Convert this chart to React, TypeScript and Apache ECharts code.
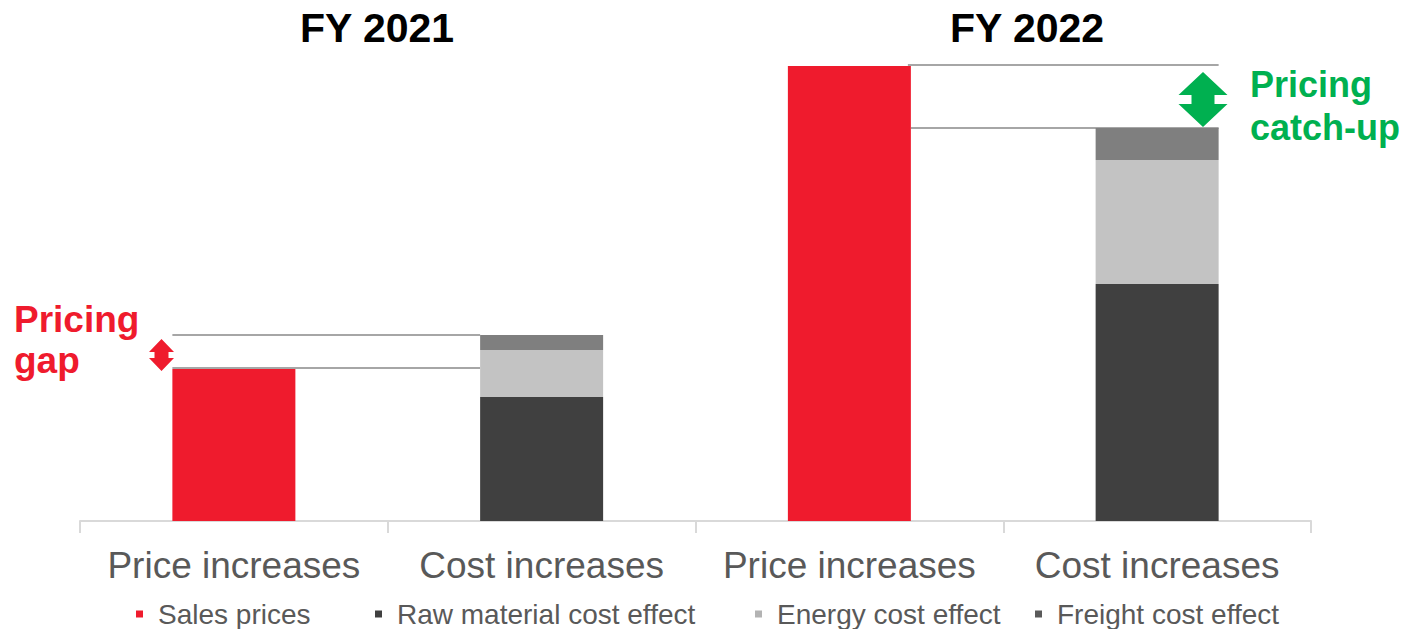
import React, { useEffect, useRef } from "react";
import * as echarts from "echarts";

const categories = ["Price increases", "Cost increases", "Price increases", "Cost increases"];
const groupTitles = ["FY 2021", "FY 2022"];
const seriesNames = ["Sales prices", "Raw material cost effect", "Energy cost effect", "Freight cost effect"];
const salesPrices: (number | string)[] = [152, "-", 455, "-"];
const rawMaterial: (number | string)[] = ["-", 124, "-", 237];
const energyCost: (number | string)[] = ["-", 47, "-", 124];
const freightCost: (number | string)[] = ["-", 15, "-", 32];
const annotationLines = [["Pricing", "gap"], ["Pricing", "catch-up"]];

const RED = "#ef1b2d";
const GREEN = "#00b050";
const DARK = "#404040";
const LIGHT = "#c3c3c3";
const FREIGHT = "#7f7f7f";
const LEGEND_COLORS = [RED, DARK, "#b3b3b3", "#5a5a5a"];
const LEGEND_LEFT = [131, 370, 750, 1030];
const FONT = "'Liberation Sans', Arial, sans-serif";

export default function App() {
  const ref = useRef<HTMLDivElement>(null);
  useEffect(() => {
    if (!ref.current) return;
    const chart = echarts.init(ref.current, null, { renderer: "svg" });
    const seriesData = [salesPrices, rawMaterial, energyCost, freightCost];
    const seriesColors = [RED, DARK, LIGHT, FREIGHT];
    const option: any = {
      animation: false,
      textStyle: { fontFamily: FONT },
      grid: { left: 80, right: 92, top: 21, bottom: 108, containLabel: false },
      xAxis: {
        type: "category",
        data: categories,
        axisLine: { lineStyle: { color: "#d9d9d9", width: 2 } },
        axisTick: { show: true, length: 12, lineStyle: { color: "#d9d9d9", width: 2 } },
        axisLabel: { color: "#595959", fontSize: 37, margin: 26, fontFamily: FONT, interval: 0 },
      },
      yAxis: { type: "value", min: 0, max: 500, show: false, splitLine: { show: false } },
      legend: seriesNames.map((n, i) => ({
        data: [{ name: n, itemStyle: { color: LEGEND_COLORS[i] } }],
        left: LEGEND_LEFT[i],
        top: 595,
        icon: "rect",
        itemWidth: 7,
        itemHeight: 7,
        textStyle: { color: "#595959", fontSize: 28, lineHeight: 28, fontFamily: FONT, padding: [0, 0, 0, 10] },
      })),
      series: seriesNames.map((n, i) => ({
        name: n,
        type: "bar",
        stack: "total",
        barWidth: 123,
        data: seriesData[i],
        itemStyle: { color: seriesColors[i] },
      })),
    };
    chart.setOption(option);

    const px = (idx: number, v: number) => chart.convertToPixel({ gridIndex: 0 }, [idx, v]) as number[];
    const num = (v: number | string) => (typeof v === "number" ? v : 0);
    const costTotal = (idx: number) => num(rawMaterial[idx]) + num(energyCost[idx]) + num(freightCost[idx]);
    const half = 61.5;
    const c0 = px(0, num(salesPrices[0]));
    const c1 = px(1, costTotal(1));
    const c2 = px(2, num(salesPrices[2]));
    const c3 = px(3, costTotal(3));
    const lineStyle = { stroke: "#a6a6a6", lineWidth: 2 };

    const arrow = (cx: number, top: number, bottom: number, headH: number, headW: number, shaftW: number, color: string) => ({
      type: "polygon",
      shape: {
        points: [
          [cx, top],
          [cx + headW, top + headH],
          [cx + shaftW, top + headH],
          [cx + shaftW, bottom - headH],
          [cx + headW, bottom - headH],
          [cx, bottom],
          [cx - headW, bottom - headH],
          [cx - shaftW, bottom - headH],
          [cx - shaftW, top + headH],
          [cx - headW, top + headH],
        ],
      },
      style: { fill: color },
    });

    const textEl = (x: number, y: number, text: string, size: number, color: string, align = "left") => ({
      type: "text",
      x,
      y,
      style: { text, fontSize: size, fontWeight: "bold", fill: color, fontFamily: FONT, align, verticalAlign: "middle" },
    });

    chart.setOption({
      graphic: [
        { type: "line", shape: { x1: c0[0] - half, y1: c1[1], x2: c1[0] - half, y2: c1[1] }, style: lineStyle },
        { type: "line", shape: { x1: c0[0] - half, y1: c0[1] - 1, x2: c1[0] - half, y2: c0[1] - 1 }, style: lineStyle },
        { type: "line", shape: { x1: c2[0] + half - 3, y1: c2[1] - 1, x2: c3[0] + half, y2: c2[1] - 1 }, style: lineStyle },
        { type: "line", shape: { x1: c2[0] + half, y1: c3[1], x2: c3[0] + half, y2: c3[1] }, style: lineStyle },
        arrow(161.5, c1[1] + 4, c0[1] + 2, 13, 12.5, 7, RED),
        arrow(1203, c2[1] + 6, c3[1] - 1, 23, 24.5, 11.5, GREEN),
        textEl(377, 28, groupTitles[0], 41, "#000000", "center"),
        textEl(1027, 28, groupTitles[1], 41, "#000000", "center"),
        textEl(14, 319, annotationLines[0][0], 37, RED),
        textEl(14, 360, annotationLines[0][1], 37, RED),
        textEl(1250, 84, annotationLines[1][0], 36, GREEN),
        textEl(1250, 127, annotationLines[1][1], 36, GREEN),
      ],
    });
    return () => chart.dispose();
  }, []);
  return <div ref={ref} style={{ position: "absolute", left: 0, top: 0, width: 1403, height: 629 }} />;
}
